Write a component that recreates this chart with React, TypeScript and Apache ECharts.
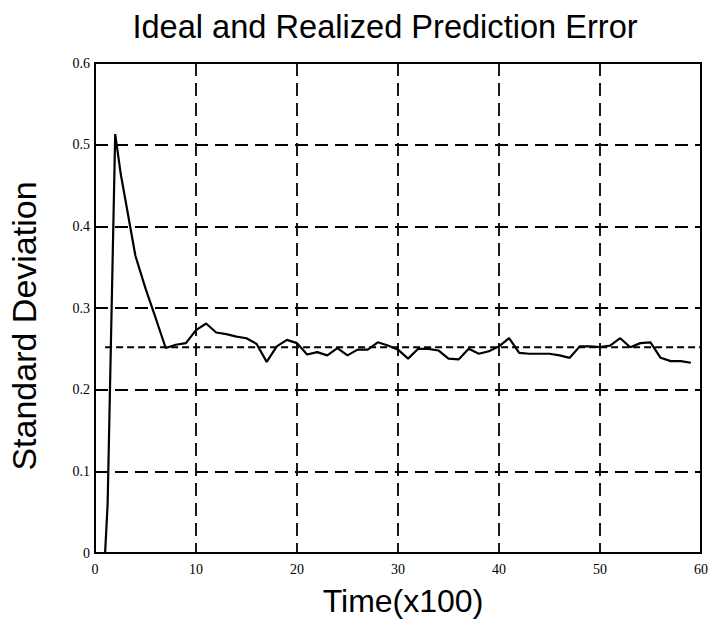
import React, { useEffect, useRef } from "react";
import * as echarts from "echarts";

const timeX = [1, 1.25, 2, 2.55, 4, 5, 6, 7, 8, 9, 10, 11, 12, 13, 14, 15, 16, 17, 18, 19, 20, 21, 22, 23, 24, 25, 26, 27, 28, 29, 30, 31, 32, 33, 34, 35, 36, 37, 38, 39, 40, 41, 42, 43, 44, 45, 46, 47, 48, 49, 50, 51, 52, 53, 54, 55, 56, 57, 58, 59];
const realized = [0, 0.06, 0.513, 0.464, 0.364, 0.324, 0.288, 0.251, 0.255, 0.257, 0.273, 0.281, 0.27, 0.268, 0.265, 0.263, 0.256, 0.234, 0.253, 0.261, 0.257, 0.243, 0.246, 0.242, 0.251, 0.242, 0.249, 0.249, 0.258, 0.254, 0.249, 0.238, 0.25, 0.25, 0.248, 0.238, 0.237, 0.25, 0.244, 0.247, 0.253, 0.263, 0.245, 0.244, 0.244, 0.244, 0.242, 0.239, 0.253, 0.253, 0.252, 0.254, 0.263, 0.252, 0.257, 0.258, 0.239, 0.235, 0.235, 0.233];
const idealX = [1, 60];
const idealY = [0.252, 0.252];

const title = "Ideal and Realized Prediction Error";
const xTitle = "Time(x100)";
const yTitle = "Standard Deviation";

export default function App() {
  const ref = useRef<HTMLDivElement>(null);
  useEffect(() => {
    const chart = echarts.init(ref.current!, null, { renderer: "svg" });
    const sans = "'Liberation Sans', Arial, Helvetica, sans-serif";
    const serif = "'Liberation Serif', 'Times New Roman', serif";
    const gridLine = { show: true, lineStyle: { color: "#000", width: 1.8, type: [13, 7] as any } };
    chart.setOption({
      animation: false,
      backgroundColor: "#fff",
      grid: {
        left: 95, right: 8, top: 63, bottom: 76,
        show: true, borderColor: "#000", borderWidth: 2, backgroundColor: "transparent",
        outerBoundsMode: "none", containLabel: false,
      },
      graphic: [
        { type: "text", x: 385, y: 26, style: { text: title, font: `32.6px ${sans}`, fill: "#000", textAlign: "center", textVerticalAlign: "middle" } },
        { type: "text", x: 403, y: 601, style: { text: xTitle, font: `32px ${sans}`, fill: "#000", textAlign: "center", textVerticalAlign: "middle" } },
        { type: "text", x: 24, y: 326, rotation: Math.PI / 2, style: { text: yTitle, font: `34px ${sans}`, fill: "#000", textAlign: "center", textVerticalAlign: "middle" } },
      ],
      xAxis: {
        type: "value",
        min: 0,
        max: 60,
        interval: 10,
        axisLine: { show: false },
        axisTick: { show: false },
        splitLine: gridLine,
        axisLabel: { color: "#000", fontFamily: serif, fontSize: 14, margin: 9 },
      },
      yAxis: {
        type: "value",
        min: 0,
        max: 0.6,
        interval: 0.1,
        axisLine: { show: false },
        axisTick: { show: false },
        splitLine: gridLine,
        axisLabel: { color: "#000", fontFamily: serif, fontSize: 14, margin: 5, formatter: (v: number) => (v === 0 ? "0" : v.toFixed(1)) },
      },
      series: [
        {
          type: "line",
          data: idealX.map((x, i) => [x, idealY[i]]),
          symbol: "none",
          lineStyle: { color: "#000", width: 2, type: [7, 4] },
          z: 3,
        },
        {
          type: "line",
          data: timeX.map((x, i) => [x, realized[i]]),
          symbol: "none",
          lineStyle: { color: "#000", width: 2.2 },
          z: 4,
        },
      ],
    });
    return () => chart.dispose();
  }, []);
  return <div ref={ref} style={{ position: "fixed", left: 0, top: 0, width: 709, height: 629, background: "#fff" }} />;
}
